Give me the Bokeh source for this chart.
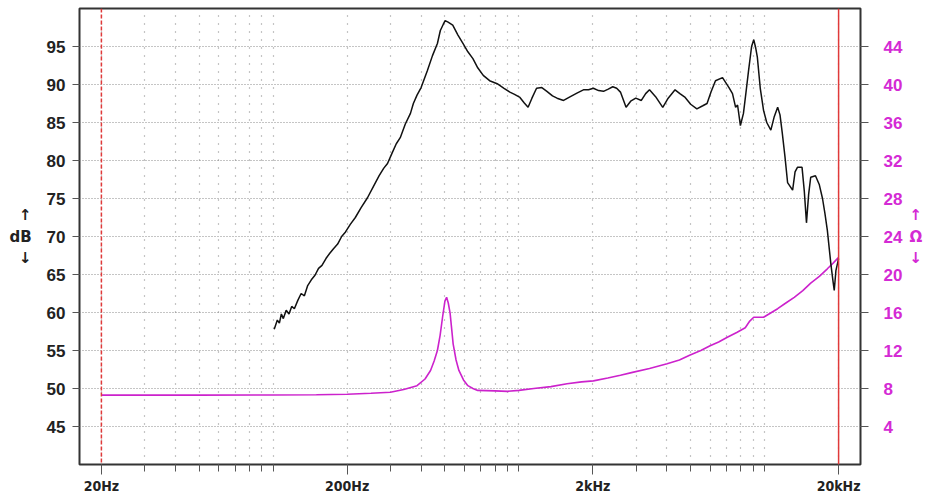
from bokeh.plotting import figure
from bokeh.models import (Range1d, LinearAxis, FixedTicker, Span, Grid)
from bokeh.embed import file_html
from bokeh.resources import INLINE

# ---- data ----
spl_freq = [101, 104, 106, 108, 110, 113, 116, 119, 122, 126, 130, 134, 138, 143, 148,
            153, 158, 164, 170, 176, 183, 190, 197, 206, 216, 228, 242, 256, 270, 282,
            292, 305, 317, 329, 345, 362, 372, 385, 400, 424, 445, 466, 479, 492, 501,
            515, 538, 565, 592, 620, 650, 680, 716, 760, 816, 870, 919, 960, 1010, 1050,
            1090, 1130, 1180, 1240, 1300, 1370, 1430, 1520, 1620, 1730, 1830, 1920, 2010,
            2110, 2210, 2310, 2410, 2500, 2590, 2730, 2850, 2990, 3150, 3280, 3400, 3600,
            3850, 4050, 4320, 4520, 4750, 5000, 5300, 5600, 5830, 6050, 6310, 6740, 7160,
            7400, 7620, 7760, 7970, 8200, 8400, 8600, 8850, 9030, 9200, 9340, 9600, 9900,
            10200, 10600, 10950, 11300, 11550, 11800, 12100, 12400, 13000, 13300, 13600,
            14200, 14500, 14800, 15100, 15400, 16100, 16700, 17200, 17600, 18000, 18600,
            19000, 19200, 19500, 20000]
spl_db = [57.8, 59.0, 58.6, 59.8, 59.2, 60.3, 59.8, 60.8, 60.5, 61.6, 62.5, 62.2, 63.5, 64.3, 64.9,
          65.8, 66.2, 67.1, 67.8, 68.4, 69.0, 70.0, 70.6, 71.6, 72.5, 73.8, 75.1, 76.6, 78.0, 79.0,
          79.6, 81.0, 82.2, 83.0, 84.8, 86.2, 87.5, 88.6, 89.6, 91.8, 93.8, 95.4, 97.1, 97.9, 98.4,
          98.2, 97.8, 96.5, 95.4, 94.3, 93.4, 92.2, 91.2, 90.5, 90.1, 89.5, 89.0, 88.7, 88.3, 87.6,
          87.0, 88.2, 89.5, 89.6, 89.1, 88.5, 88.2, 87.9, 88.4, 88.9, 89.3, 89.3, 89.5,
          89.2, 89.1, 89.4, 89.7, 89.5, 89.0, 87.0, 87.8, 88.2, 87.9, 88.8, 89.3, 88.4,
          87.0, 88.2, 89.3, 88.8, 88.3, 87.4, 86.8, 87.2, 87.5, 89.0, 90.5, 90.9, 89.6,
          88.8, 87.0, 87.3, 84.6, 86.2, 89.0, 91.8, 95.0, 95.9, 94.8, 93.6, 89.5, 86.6,
          85.0, 84.0, 85.8, 87.0, 86.0, 83.6, 80.5, 77.1, 76.1, 78.5, 79.1,
          79.1, 76.0, 71.8, 75.5, 77.8, 78.0, 76.8, 75.0, 73.0, 70.8, 66.4,
          64.0, 62.9, 65.5, 67.1]

imp_freq = [20, 50, 100, 150, 200, 250, 300, 340, 385, 415, 437, 452, 466, 478, 489, 500,
            508, 516, 525, 533, 540, 555, 570, 595, 620, 650, 680, 800, 900, 1000, 1150,
            1350, 1570, 1800, 2010, 2300, 2590, 2900, 3400, 4010, 4500, 4950, 5500, 6000,
            6500, 7050, 7700, 8340, 8700, 9030, 9900, 10500, 11300, 12200, 13200, 14300,
            15400, 16700, 18000, 19000, 20000]
imp_ohm = [7.3, 7.3, 7.32, 7.35, 7.4, 7.5, 7.6, 7.9, 8.3, 9.0, 9.9, 10.9, 12.0, 13.6, 15.5, 17.2,
           17.6, 17.0, 15.9, 14.2, 12.7, 11.0, 9.9, 8.9, 8.3, 8.0, 7.8, 7.75, 7.7, 7.8, 8.0,
           8.2, 8.5, 8.7, 8.8, 9.1, 9.4, 9.7, 10.1, 10.6, 11.0, 11.5, 12.0, 12.5,
           12.9, 13.4, 13.9, 14.4, 15.1, 15.5, 15.5, 15.9, 16.4, 17.0, 17.6, 18.3,
           19.1, 19.8, 20.6, 21.2, 21.8]

x_major = [20, 200, 2000, 20000]
x_major_labels = ["20Hz", "200Hz", "2kHz", "20kHz"]
x_minor = [30, 40, 50, 60, 70, 80, 90, 100,
           300, 400, 500, 600, 700, 800, 900, 1000,
           3000, 4000, 5000, 6000, 7000, 8000, 9000, 10000]
db_ticks = [45, 50, 55, 60, 65, 70, 75, 80, 85, 90, 95]
ohm_ticks = [4, 8, 12, 16, 20, 24, 28, 32, 36, 40, 44]
left_unit = "↑\ndB\n↓"
right_unit = "↑\nΩ\n↓"

MAG = "#cc22cc"
MAG_TXT = "#d42ad4"
TXT = "#222222"

p = figure(width=927, height=498, x_axis_type="log",
           x_range=Range1d(16.29, 24556), y_range=Range1d(40, 100),
           output_backend="svg", toolbar_location=None,
           min_border_left=79, min_border_right=67, min_border_top=8, min_border_bottom=34)
p.extra_y_ranges = {"ohm": Range1d(0, 48)}

p.outline_line_color = "#333333"
p.outline_line_width = 2
p.background_fill_color = "white"
p.border_fill_color = "white"

# grids
p.xgrid.visible = False
p.ygrid.visible = False
vgrid = Grid(dimension=0, ticker=FixedTicker(ticks=x_major + x_minor),
             grid_line_color="#8a8a8a", grid_line_dash="1 7", grid_line_width=1.2)
hgrid = Grid(dimension=1, ticker=FixedTicker(ticks=db_ticks),
             grid_line_color="#8a8a8a", grid_line_dash="1 2", grid_line_width=1.2)
p.add_layout(vgrid)
p.add_layout(hgrid)

# x axis
xa = p.xaxis[0]
xa.ticker = FixedTicker(ticks=x_major, minor_ticks=x_minor)
xa.major_label_overrides = {t: s for t, s in zip(x_major, x_major_labels)}
xa.axis_line_color = None
xa.major_tick_out = 10
xa.major_tick_in = 0
xa.minor_tick_out = 7
xa.minor_tick_in = 0
xa.major_tick_line_color = "#555555"
xa.minor_tick_line_color = "#555555"
xa.major_label_standoff = 3
xa.major_label_text_font = "DejaVu Sans Condensed"
xa.major_label_text_font_size = "14px"
xa.major_label_text_font_style = "bold"
xa.major_label_text_color = TXT

# left axis
ya = p.yaxis[0]
ya.ticker = FixedTicker(ticks=db_ticks)
ya.axis_line_color = None
ya.major_tick_out = 7
ya.major_tick_in = 0
ya.minor_tick_line_color = None
ya.major_tick_line_color = "#555555"
ya.major_label_standoff = 7
ya.major_label_text_font = "Liberation Sans"
ya.major_label_text_font_size = "17px"
ya.major_label_text_font_style = "bold"
ya.major_label_text_color = TXT
ya.axis_label = left_unit
ya.axis_label_orientation = "horizontal"
ya.axis_label_standoff = 12
ya.axis_label_text_font = "DejaVu Sans"
ya.axis_label_text_font_size = "15px"
ya.axis_label_text_font_style = "bold"
ya.axis_label_text_color = TXT

# right axis
ra = LinearAxis(y_range_name="ohm", ticker=FixedTicker(ticks=ohm_ticks))
ra.axis_line_color = None
ra.major_tick_out = 8
ra.major_tick_in = 0
ra.minor_tick_line_color = None
ra.major_tick_line_color = "#555555"
ra.major_label_standoff = 15
ra.major_label_text_font = "Liberation Sans"
ra.major_label_text_font_size = "17px"
ra.major_label_text_font_style = "bold"
ra.major_label_text_color = MAG_TXT
ra.axis_label = right_unit
ra.axis_label_orientation = "horizontal"
ra.axis_label_standoff = 4
ra.axis_label_text_font = "DejaVu Sans"
ra.axis_label_text_font_size = "15px"
ra.axis_label_text_font_style = "bold"
ra.axis_label_text_color = MAG_TXT
p.add_layout(ra, "right")

# red marker lines
p.add_layout(Span(location=20, dimension="height", line_color="#e03a3a",
                  line_width=1.5, line_dash="4 2"))
p.add_layout(Span(location=20000, dimension="height", line_color="#e03a3a",
                  line_width=1.5))

# curves
p.line(imp_freq, imp_ohm, y_range_name="ohm", line_color=MAG, line_width=1.6)
p.line(spl_freq, spl_db, line_color="#111111", line_width=1.5)

open("out.html", "w").write(file_html(p, INLINE))
